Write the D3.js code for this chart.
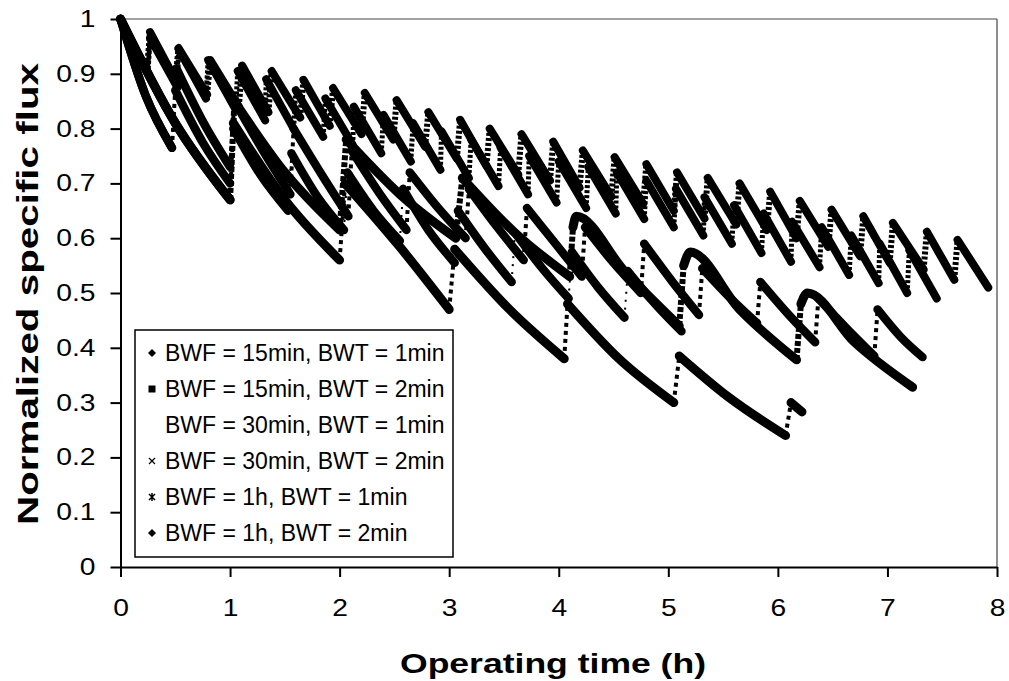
<!DOCTYPE html>
<html><head><meta charset="utf-8">
<script src="https://cdn.jsdelivr.net/npm/d3@7"></script>
<style>
body{margin:0;background:#fff;}
svg{display:block;font-family:"Liberation Sans",Arial,sans-serif;}
</style></head>
<body><svg id="c" width="1009" height="681"></svg>
<script>
const xTicks=[0,1,2,3,4,5,6,7,8];
const yTicks=[0,0.1,0.2,0.3,0.4,0.5,0.6,0.7,0.8,0.9,1];
const yTickLabels=["0","0.1","0.2","0.3","0.4","0.5","0.6","0.7","0.8","0.9","1"];
const legendLabels=["BWF = 15min, BWT = 1min","BWF = 15min, BWT = 2min","BWF = 30min, BWT = 1min","BWF = 30min, BWT = 2min","BWF = 1h, BWT = 1min","BWF = 1h, BWT = 2min"];
const legendMarkers=["diamond","square","none","cross","star","diamond"];
// each series: filtration cycles, each cycle = [time (h), normalized flux] points
const bwf15bwt1=[[[0,1],[0.25,0.90]],[[0.27,0.965],[0.52,0.875]],[[0.53,0.945],[0.78,0.855]],[[0.8,0.925],[1.05,0.835]],[[1.07,0.905],[1.32,0.815]],[[1.33,0.89],[1.58,0.80]],[[1.6,0.87],[1.85,0.785]],[[1.87,0.855],[2.12,0.77]],[[2.13,0.84],[2.38,0.755]],[[2.4,0.825],[2.65,0.74]],[[2.67,0.81],[2.92,0.725]],[[2.93,0.795],[3.18,0.71]],[[3.2,0.78],[3.45,0.695]],[[3.47,0.765],[3.72,0.68]],[[3.73,0.75],[3.98,0.665]],[[4.0,0.74],[4.25,0.655]],[[4.27,0.73],[4.52,0.645]],[[4.53,0.72],[4.78,0.635]],[[4.8,0.705],[5.05,0.62]],[[5.07,0.69],[5.32,0.605]],[[5.33,0.675],[5.58,0.59]],[[5.6,0.66],[5.85,0.573]],[[5.87,0.645],[6.12,0.557]],[[6.13,0.63],[6.38,0.547]],[[6.4,0.62],[6.65,0.533]],[[6.67,0.605],[6.92,0.518]],[[6.93,0.59],[7.18,0.50]],[[7.2,0.578],[7.45,0.49]]];
const bwf15bwt2=[[[0,1],[0.24,0.905]],[[0.27,0.976],[0.5,0.89]],[[0.53,0.947],[0.79,0.862]],[[0.82,0.925],[1.08,0.84]],[[1.11,0.915],[1.35,0.83]],[[1.38,0.905],[1.64,0.82]],[[1.67,0.889],[1.91,0.805]],[[1.94,0.874],[2.2,0.79]],[[2.23,0.865],[2.49,0.78]],[[2.52,0.852],[2.78,0.767]],[[2.81,0.83],[3.07,0.745]],[[3.1,0.816],[3.34,0.732]],[[3.37,0.80],[3.63,0.716]],[[3.66,0.79],[3.92,0.705]],[[3.95,0.776],[4.19,0.692]],[[4.22,0.76],[4.48,0.676]],[[4.51,0.748],[4.77,0.663]],[[4.8,0.735],[5.05,0.65]],[[5.08,0.72],[5.33,0.636]],[[5.36,0.71],[5.62,0.625]],[[5.65,0.70],[5.9,0.615]],[[5.93,0.685],[6.17,0.60]],[[6.2,0.668],[6.46,0.584]],[[6.49,0.652],[6.75,0.567]],[[6.78,0.64],[7.02,0.555]],[[7.05,0.628],[7.33,0.543]],[[7.36,0.612],[7.61,0.524]],[[7.64,0.597],[7.92,0.51]]];
const bwf30bwt1=[[[0,1],[0.23,0.86],[0.47,0.765]],[[0.5,0.87],[0.75,0.775],[1.0,0.70]],[[1.03,0.80],[1.28,0.715],[1.53,0.65]],[[1.56,0.755],[1.8,0.675],[2.04,0.615]],[[2.07,0.72],[2.31,0.65],[2.55,0.595]],[[2.58,0.69],[2.81,0.615],[3.05,0.555]],[[3.08,0.65],[3.33,0.58],[3.57,0.52]],[[3.6,0.61],[3.85,0.545],[4.09,0.49]],[[4.12,0.575],[4.36,0.51],[4.6,0.455]],[[4.63,0.54],[4.88,0.48],[5.12,0.43]]];
const bwf30bwt2=[[[0,1],[0.23,0.86],[0.47,0.765]],[[0.51,0.91],[0.76,0.81],[1.0,0.73]],[[1.04,0.85],[1.3,0.76],[1.55,0.68]],[[1.58,0.80],[1.84,0.715],[2.08,0.64]],[[2.11,0.76],[2.37,0.68],[2.61,0.615]],[[2.64,0.72],[2.9,0.655],[3.15,0.60]],[[3.18,0.69],[3.44,0.62],[3.68,0.56]],[[3.71,0.655],[3.97,0.59],[4.21,0.53]],[[4.24,0.62],[4.5,0.555],[4.75,0.50]],[[4.78,0.59],[5.04,0.52],[5.28,0.46]],[[5.31,0.545],[5.57,0.49],[5.81,0.445]],[[5.84,0.52],[6.1,0.46],[6.34,0.41]],[[6.37,0.49],[6.63,0.435],[6.88,0.385]],[[6.91,0.47],[7.12,0.42],[7.32,0.383]]];
const bwf1hbwt1=[[[0,1],[0.5,0.81],[1.0,0.67]],[[1.03,0.81],[1.5,0.67],[2.0,0.56]],[[2.05,0.70],[2.55,0.584],[3.0,0.47]],[[3.05,0.58],[3.55,0.47],[4.05,0.38]],[[4.08,0.48],[4.55,0.38],[5.05,0.30]],[[5.1,0.385],[5.55,0.31],[6.07,0.24]],[[6.12,0.30],[6.22,0.283]]];
const bwf1hbwt2=[[[0,1],[0.5,0.81],[1.0,0.67]],[[1.04,0.85],[1.5,0.72],[2.0,0.615]],[[2.06,0.78],[2.55,0.68],[3.06,0.60]],[[3.12,0.71],[3.6,0.61],[4.1,0.53]],[[4.13,0.62],[4.16,0.64],[4.6,0.54],[5.1,0.44]],[[5.14,0.55],[5.2,0.575],[5.65,0.47],[6.17,0.378]],[[6.21,0.48],[6.27,0.50],[6.7,0.41],[7.23,0.328]]];
const allSeries=[bwf15bwt1,bwf15bwt2,bwf30bwt1,bwf30bwt2,bwf1hbwt1,bwf1hbwt2];

const svg=d3.select("#c");
const x=d3.scaleLinear().domain([0,8]).range([120.5,997]);
const y=d3.scaleLinear().domain([0,1]).range([567,19]);

svg.append("line").attr("x1",x(0)).attr("x2",x(8)).attr("y1",y(1)).attr("y2",y(1)).attr("stroke","#444").attr("stroke-width",1.2);
svg.append("line").attr("x1",x(8)).attr("x2",x(8)).attr("y1",y(1)).attr("y2",y(0)).attr("stroke","#444").attr("stroke-width",1.2);

const line=d3.line().x(d=>x(d[0])).y(d=>y(d[1])).curve(d3.curveMonotoneX);
const widths=[8,8,8.5,8.5,9,9];
const jumpDash=["3,2","3,2","2,6","4,4","4,4","5,2"];
const jumpW=[5,6,2,4,4,6];
allSeries.forEach((s,i)=>{
  const g=svg.append("g");
  s.forEach(cyc=>{
    g.append("path").attr("d",line(cyc)).attr("fill","none").attr("stroke","#000").attr("stroke-width",widths[i]).attr("stroke-linecap","round").attr("stroke-linejoin","round");
  });
  for(let k=1;k<s.length;k++){
    const a=s[k-1][s[k-1].length-1], b=s[k][0];
    g.append("line").attr("x1",x(a[0])).attr("y1",y(a[1])).attr("x2",x(b[0])).attr("y2",y(b[1]))
      .attr("stroke","#000").attr("stroke-width",jumpW[i]).attr("stroke-dasharray",jumpDash[i]);
  }
});

function stretch(sel,f){sel.each(function(){const w=this.getComputedTextLength();d3.select(this).attr("textLength",w*f).attr("lengthAdjust","spacingAndGlyphs");});}

const xa=d3.axisBottom(x).tickValues(xTicks).tickSize(10).tickSizeOuter(0).tickPadding(22).tickFormat(d3.format("d"));
const gx=svg.append("g").attr("transform",`translate(0,${y(0)})`).call(xa);
gx.select(".domain").attr("stroke","#000").attr("stroke-width",2);
gx.selectAll(".tick line").attr("stroke","#000").attr("stroke-width",2);
gx.selectAll("text").attr("font-size",23.5).attr("fill","#000").attr("font-family","Liberation Sans");
stretch(gx.selectAll("text"),1.2);
const ya=d3.axisLeft(y).tickValues(yTicks).tickSize(10).tickSizeOuter(0).tickPadding(15).tickFormat((d,i)=>yTickLabels[i]);
const gy=svg.append("g").attr("transform",`translate(${x(0)},0)`).call(ya);
gy.select(".domain").attr("stroke","#000").attr("stroke-width",2);
gy.selectAll(".tick line").attr("stroke","#000").attr("stroke-width",2);
gy.selectAll("text").attr("font-size",23.5).attr("fill","#000").attr("font-family","Liberation Sans");
stretch(gy.selectAll("text"),1.2);

svg.append("text").attr("x",553).attr("y",673).attr("text-anchor","middle").attr("font-weight","bold").attr("font-size",28).attr("textLength",306).attr("lengthAdjust","spacingAndGlyphs").text("Operating time (h)");
svg.append("text").attr("transform","translate(38,294) rotate(-90)").attr("text-anchor","middle").attr("font-weight","bold").attr("font-size",29).attr("textLength",462).attr("lengthAdjust","spacingAndGlyphs").text("Normalized specific flux");

const lg=svg.append("g");
lg.append("rect").attr("x",135).attr("y",330).attr("width",318).attr("height",227).attr("fill","#fff").attr("stroke","#000").attr("stroke-width",1.5);
legendLabels.forEach((t,i)=>{
  const cy=353+i*36;
  lg.append("text").attr("x",165).attr("y",cy+8).attr("font-size",23).text(t);
  const m=legendMarkers[i], mx=152;
  if(m==="diamond") lg.append("path").attr("d",`M${mx},${cy-4}L${mx+4},${cy}L${mx},${cy+4}L${mx-4},${cy}Z`);
  if(m==="square") lg.append("rect").attr("x",mx-3.5).attr("y",cy-3.5).attr("width",7).attr("height",7);
  if(m==="cross") lg.append("path").attr("d",`M${mx-3},${cy-3}L${mx+3},${cy+3}M${mx+3},${cy-3}L${mx-3},${cy+3}`).attr("stroke","#000").attr("stroke-width",1.2);
  if(m==="star") lg.append("path").attr("d",`M${mx-3},${cy-3}L${mx+3},${cy+3}M${mx+3},${cy-3}L${mx-3},${cy+3}M${mx},${cy-4}L${mx},${cy+4}`).attr("stroke","#000").attr("stroke-width",1.5);
});
</script></body></html>
